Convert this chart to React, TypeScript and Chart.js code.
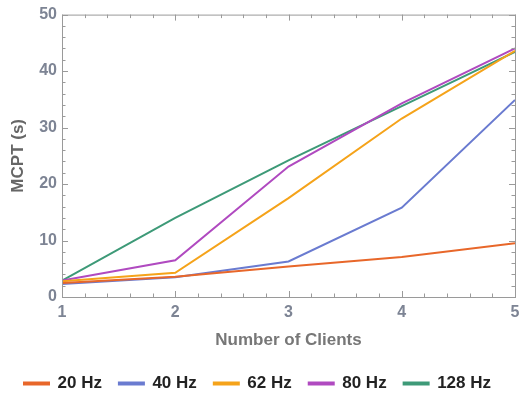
import React, { useEffect, useRef } from "react";
import { Chart, registerables } from "chart.js";

Chart.register(...registerables);

const clients = [1, 2, 3, 4, 5];
const hz20 = [2.5, 3.6, 5.4, 7.1, 9.5];
const hz40 = [2.3, 3.5, 6.3, 15.8, 34.9];
const hz62 = [2.8, 4.3, 17.5, 31.6, 43.6];
const hz80 = [2.9, 6.5, 23.1, 34.3, 44.0];
const hz128 = [2.9, 14.0, 24.2, 33.8, 43.4];
const seriesNames = ["20 Hz", "40 Hz", "62 Hz", "80 Hz", "128 Hz"];
const seriesColors = ["#E8672A", "#6A7BD0", "#F5A31A", "#B04AC0", "#3E9A78"];
const yMajor = [0, 10, 20, 30, 40, 50];
const yMinorStep = 2;
const xMinorStep = 0.2;

const FONT = "'Liberation Sans', Arial, sans-serif";

const framePlugin = {
  id: "frameTicks",
  afterDatasetsDraw(chart: any) {
    const { ctx, chartArea: a, scales } = chart;
    const xs = scales.x;
    const ys = scales.y;
    ctx.save();
    ctx.strokeStyle = "#9a9a9a";
    ctx.lineWidth = 1;
    ctx.strokeRect(a.left + 0.5, a.top + 0.5, a.right - a.left, a.bottom - a.top);
    ctx.beginPath();
    for (let v = clients[0]; v <= clients[clients.length - 1] + 1e-9; v += xMinorStep) {
      const major = Math.abs(v - Math.round(v)) < 1e-6;
      const len = major ? 6 : 3.5;
      const px = Math.round(xs.getPixelForValue(v)) + 0.5;
      ctx.moveTo(px, a.bottom);
      ctx.lineTo(px, a.bottom - len);
      ctx.moveTo(px, a.top);
      ctx.lineTo(px, a.top + len);
    }
    for (let v = yMajor[0]; v <= yMajor[yMajor.length - 1] + 1e-9; v += yMinorStep) {
      const r = Math.round(v);
      const major = Math.abs(v - r) < 1e-6 && yMajor.includes(r);
      const len = major ? 6 : 3.5;
      const py = Math.round(ys.getPixelForValue(v)) + 0.5;
      ctx.moveTo(a.left, py);
      ctx.lineTo(a.left + len, py);
      ctx.moveTo(a.right, py);
      ctx.lineTo(a.right - len, py);
    }
    ctx.stroke();
    ctx.restore();
  },
};

export default function App() {
  const ref = useRef<HTMLCanvasElement>(null);
  useEffect(() => {
    document.body.style.margin = "0";
    const all = [hz20, hz40, hz62, hz80, hz128];
    const chart = new Chart(ref.current!, {
      type: "line",
      data: {
        datasets: all.map((vals, i) => ({
          label: seriesNames[i],
          data: clients.map((c, j) => ({ x: c, y: vals[j] })),
          borderColor: seriesColors[i],
          backgroundColor: seriesColors[i],
          borderWidth: 2,
          pointRadius: 0,
          tension: 0,
        })),
      },
      options: {
        animation: false,
        responsive: false,
        layout: { padding: { top: 14, right: 5, left: 0, bottom: -8 } },
        plugins: {
          tooltip: { enabled: false },
          legend: {
            position: "bottom",
            labels: {
              boxWidth: 25,
              boxHeight: 2,
              padding: 17,
              color: "#222",
              font: { family: FONT, size: 17, weight: "bold" },
            },
          },
        },
        scales: {
          x: {
            type: "linear",
            min: 1,
            max: 5,
            grid: { display: false, drawTicks: false },
            border: { display: false },
            ticks: {
              stepSize: 1,
              padding: 6,
              color: "#7d8494",
              font: { family: FONT, size: 16, weight: "bold" },
            },
            title: {
              display: true,
              text: "Number of Clients",
              color: "#777",
              padding: { top: 12, bottom: 7 },
              font: { family: FONT, size: 17, weight: "bold" },
            },
            afterFit(s: any) {
              s.height = 61;
              s.paddingRight = 0;
              s.paddingLeft = 0;
            },
          },
          y: {
            min: 0,
            max: 50,
            grid: { display: false, drawTicks: false },
            border: { display: false },
            ticks: {
              stepSize: 10,
              padding: 5,
              color: "#7d8494",
              font: { family: FONT, size: 16, weight: "bold" },
            },
            title: {
              display: true,
              text: "MCPT (s)",
              color: "#666",
              padding: { top: 8, bottom: 8 },
              font: { family: FONT, size: 17, weight: "bold" },
            },
            afterFit(s: any) {
              s.width = 62;
            },
          },
        },
      },
      plugins: [framePlugin],
    } as any);
    return () => chart.destroy();
  }, []);
  return <canvas ref={ref} width={520} height={394} style={{ display: "block" }} />;
}
